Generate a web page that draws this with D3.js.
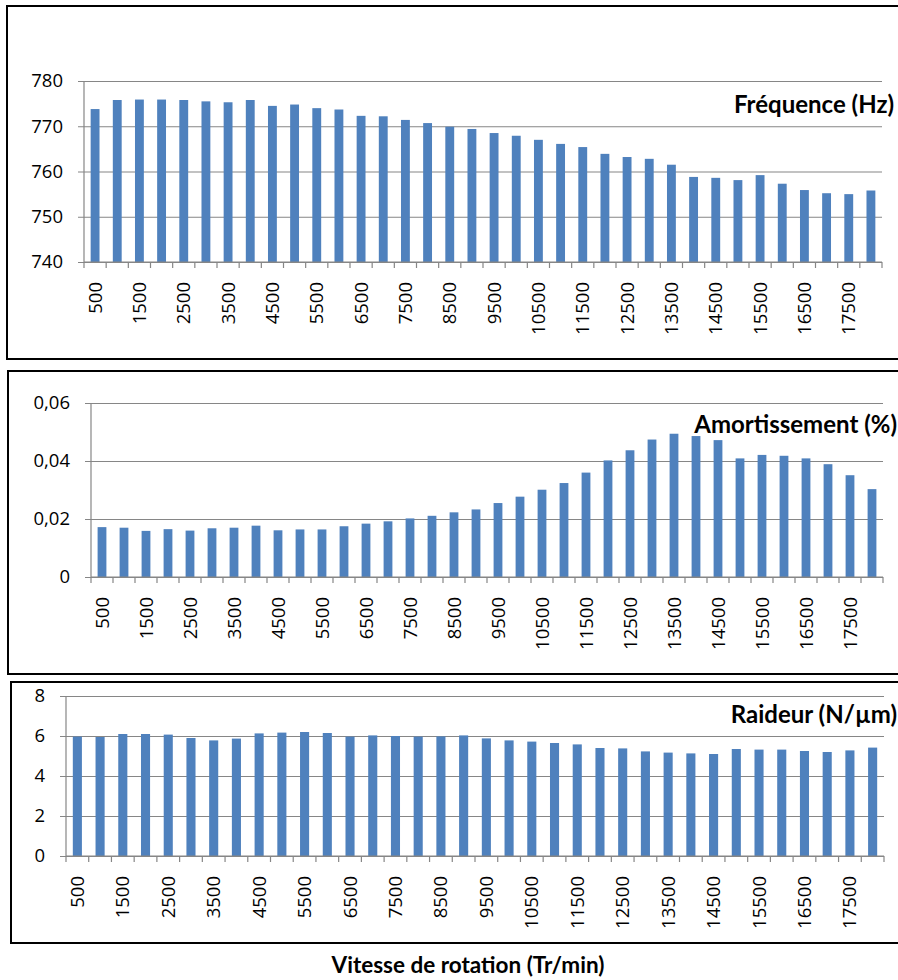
<!DOCTYPE html>
<html><head><meta charset="utf-8">
<script src="https://cdn.jsdelivr.net/npm/d3@7"></script>
<style>
body{margin:0;background:#fff;}
svg{display:block;}
</style></head>
<body>
<svg id="c" width="898" height="980"></svg>
<script>
// ---- data ----
const speeds = [500,1000,1500,2000,2500,3000,3500,4000,4500,5000,5500,6000,6500,7000,7500,8000,8500,9000,
  9500,10000,10500,11000,11500,12000,12500,13000,13500,14000,14500,15000,15500,16000,16500,17000,17500,18000];
const frequence = [773.8,775.8,775.9,775.9,775.8,775.5,775.3,775.8,774.5,774.8,774.0,773.7,772.3,772.2,771.4,770.7,769.9,769.4,
  768.5,767.9,767.0,766.1,765.4,763.9,763.2,762.8,761.5,758.8,758.6,758.1,759.2,757.3,755.9,755.2,755.0,755.8];
const amortissement = [0.0172,0.0170,0.0159,0.0165,0.0160,0.0168,0.0170,0.0177,0.0161,0.0164,0.0164,0.0175,0.0184,0.0192,0.0202,0.0211,0.0223,0.0233,
  0.0255,0.0277,0.0301,0.0324,0.0360,0.0402,0.0437,0.0474,0.0494,0.0486,0.0472,0.0409,0.0421,0.0418,0.0409,0.0389,0.0351,0.0303];
const raideur = [5.97,5.95,6.10,6.10,6.07,5.90,5.78,5.87,6.13,6.17,6.20,6.15,5.97,6.03,6.00,5.97,5.98,6.03,
  5.88,5.78,5.72,5.65,5.58,5.40,5.38,5.23,5.17,5.13,5.10,5.35,5.32,5.32,5.25,5.20,5.28,5.42];
const freqTicks = [740,750,760,770,780];
const amortTicks = [0,0.02,0.04,0.06];
const raidTicks = [0,2,4,6,8];
const titles = ["Fréquence (Hz)","Amortissement (%)","Raideur (N/µm)"];
const xTitle = "Vitesse de rotation (Tr/min)";

// ---- layout ----
const svg = d3.select("#c");
const FONT = "'Open Sans', sans-serif";
const TFONT = "Lato, 'Open Sans', sans-serif";
const BAR = "#4F81BD", GRID = "#868686";
const fmtComma = d => (d === 0 ? "0" : d3.format(".2f")(d).replace(".", ","));

const panels = [
  {values: frequence, ticks: freqTicks, domain:[740,780], fmt: d=>String(d), title: titles[0],
   box:{x:7,y:6,x2:900,y2:359}, plot:{x0:84,x1:882,yTop:81,yBot:262}, titleX:894, titleY:113},
  {values: amortissement, ticks: amortTicks, domain:[0,0.06], fmt: fmtComma, title: titles[1],
   box:{x:8,y:371,x2:900,y2:674}, plot:{x0:91,x1:883,yTop:403,yBot:577}, titleX:897, titleY:433},
  {values: raideur, ticks: raidTicks, domain:[0,8], fmt: d=>String(d), title: titles[2],
   box:{x:11,y:682,x2:900,y2:943}, plot:{x0:66,x1:884,yTop:696,yBot:856}, titleX:897, titleY:723}
];

panels.forEach(p => {
  const g = svg.append("g");
  g.append("rect").attr("x",p.box.x).attr("y",p.box.y)
    .attr("width",p.box.x2-p.box.x).attr("height",p.box.y2-p.box.y)
    .attr("fill","#fff").attr("stroke","#000").attr("stroke-width",2);

  const x = d3.scaleBand().domain(speeds).range([p.plot.x0,p.plot.x1]).paddingInner(0.6).paddingOuter(0.3);
  const xb = d3.scaleBand().domain(speeds).range([p.plot.x0,p.plot.x1]);
  const y = d3.scaleLinear().domain(p.domain).range([p.plot.yBot,p.plot.yTop]);

  // gridlines + y axis
  const ya = g.append("g").attr("transform",`translate(${p.plot.x0},0)`)
    .call(d3.axisLeft(y).tickValues(p.ticks).tickFormat(p.fmt).tickSize(-(p.plot.x1-p.plot.x0)).tickPadding(0));
  ya.select(".domain").remove();
  ya.selectAll(".tick line").attr("stroke",GRID).attr("stroke-width",1.2).attr("x1",-6);
  ya.selectAll(".tick text").attr("x",-21).attr("font-family",FONT).attr("font-size",18.5).attr("fill","#000");
  g.append("line").attr("x1",p.plot.x0).attr("x2",p.plot.x0).attr("y1",p.plot.yTop).attr("y2",p.plot.yBot)
    .attr("stroke",GRID).attr("stroke-width",1.2);

  // bars
  g.append("g").selectAll("rect").data(speeds).join("rect")
    .attr("x",d=>x(d)).attr("width",x.bandwidth())
    .attr("y",(d,i)=>y(p.values[i])).attr("height",(d,i)=>p.plot.yBot-y(p.values[i]))
    .attr("fill",BAR);

  // x axis
  g.append("line").attr("x1",p.plot.x0).attr("x2",p.plot.x1).attr("y1",p.plot.yBot).attr("y2",p.plot.yBot)
    .attr("stroke",GRID).attr("stroke-width",1.2);
  const edges = speeds.map(d=>xb(d)).concat([p.plot.x1]);
  g.append("g").selectAll("line").data(edges).join("line")
    .attr("x1",d=>d).attr("x2",d=>d).attr("y1",p.plot.yBot).attr("y2",p.plot.yBot+6)
    .attr("stroke",GRID).attr("stroke-width",1.2);
  g.append("g").selectAll("text").data(speeds.filter((d,i)=>i%2===0)).join("text")
    .attr("transform",d=>`translate(${xb(d)+xb.bandwidth()/2+6.5},${p.plot.yBot+20}) rotate(-90)`)
    .attr("text-anchor","end").attr("font-family",FONT).attr("font-size",18.5).attr("fill","#000")
    .text(d=>d);

  g.append("text").attr("x",p.titleX).attr("y",p.titleY).attr("text-anchor","end")
    .attr("font-family",TFONT).attr("font-weight","bold").attr("font-size",24).attr("fill","#000")
    .text(p.title);
});

svg.append("text").attr("x",468).attr("y",973).attr("text-anchor","middle")
  .attr("font-family",TFONT).attr("font-weight","bold").attr("font-size",22.5).attr("fill","#000")
  .text(xTitle);
</script>
</body></html>
